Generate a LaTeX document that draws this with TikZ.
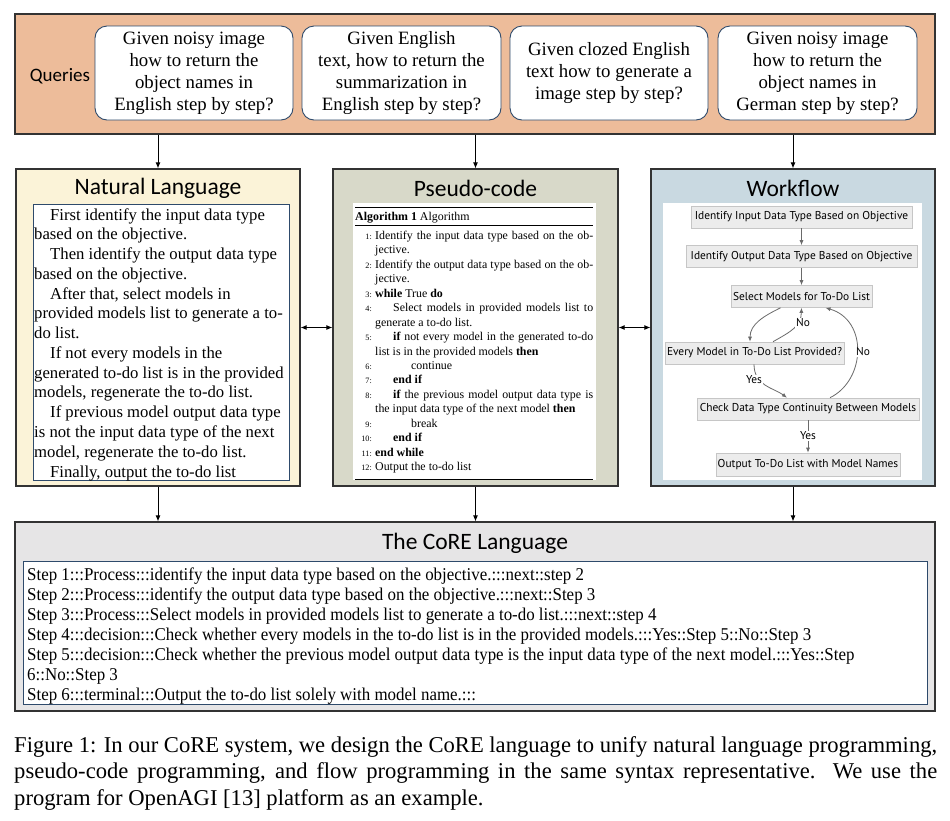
\documentclass[tikz,border=0pt]{standalone}
\usepackage{fontspec}
\setmainfont{Liberation Serif}
\newfontfamily\titlefont{Carlito}
\newfontfamily\wffont{PT Sans}
\newfontfamily\corefont[FakeStretch=0.94]{Liberation Serif}
\usetikzlibrary{arrows.meta,fit}
\definecolor{peach}{HTML}{EDBC9A}
\definecolor{nlfill}{HTML}{FBF3D8}
\definecolor{pcfill}{HTML}{D8D9C9}
\definecolor{wffill}{HTML}{C9D9E1}
\definecolor{corefill}{HTML}{E6E5E6}
\definecolor{navy}{HTML}{2E4A6B}
\definecolor{wfnode}{HTML}{ECECEC}
\definecolor{wfborder}{HTML}{C6C6C6}
\definecolor{wfarrow}{HTML}{6A6A6A}
\definecolor{framec}{HTML}{333333}
\tikzset{
  panel/.style={draw=framec, line width=1.2pt, inner sep=0pt},
  innerbox/.style={fill=white, inner sep=0pt},
  qbox/.style={draw=navy, line width=0.9pt, fill=white, rounded corners=12pt, inner sep=0pt},
  qtext/.style={align=center, font=\fontsize{18.8}{22}\selectfont, inner sep=0pt},
  ptitle/.style={font=\titlefont\fontsize{23.5}{25}\selectfont, inner sep=0pt},
  arr/.style={line width=0.9pt, -{Latex[length=6pt,width=5pt]}},
  darr/.style={line width=0.9pt, {Latex[length=6pt,width=5pt]}-{Latex[length=6pt,width=5pt]}},
  nltext/.style={anchor=base west, inner sep=0pt, font=\fontsize{16.7}{19}\selectfont},
  pctext/.style={anchor=base west, inner sep=0pt, font=\fontsize{11.9}{13}\selectfont},
  pcnum/.style={anchor=base east, inner sep=0pt, font=\fontsize{8.2}{9}\selectfont},
  wfbox/.style={draw=wfborder, fill=wfnode, line width=0.6pt, inner sep=0pt, font=\wffont\fontsize{11.4}{13}\selectfont},
  wfarr/.style={draw=wfarrow, line width=0.8pt, -{Latex[length=5pt,width=4pt]}},
  wflabel/.style={fill=white, inner sep=1pt, font=\wffont\fontsize{11.4}{13}\selectfont},
  coretext/.style={anchor=base west, inner sep=0pt, font=\corefont\fontsize{18}{20}\selectfont},
  captext/.style={anchor=base west, inner sep=0pt, font=\fontsize{22.6}{26}\selectfont},
}
\begin{document}
\begin{tikzpicture}[x=1pt,y=-1pt]
\useasboundingbox[fill=white] (0,0) rectangle (950,820);

% ---------- Queries ----------
\node[panel, fill=peach, fit={(15,14) (935,134)}] (queries) {};
\node[font=\titlefont\fontsize{19}{21}\selectfont, inner sep=0pt] (qlabel) at (60,76) {Queries};
\node[qbox, fit={(95,26) (293,120)}] (q1) {};
\node[qtext] (q1t) at (q1.center) {Given noisy image\\how to return the\\object names in\\English step by step?};
\node[qbox, fit={(302,26) (501,120)}] (q2) {};
\node[qtext] (q2t) at (q2.center) {Given English\\text, how to return the\\summarization in\\English step by step?};
\node[qbox, fit={(510,26) (708,120)}] (q3) {};
\node[qtext] (q3t) at (q3.center) {Given clozed English\\text how to generate a\\image step by step?};
\node[qbox, fit={(718,26) (917,120)}] (q4) {};
\node[qtext] (q4t) at (q4.center) {Given noisy image\\how to return the\\object names in\\German step by step?};

% ---------- Panels ----------
\node[panel, fill=nlfill, fit={(16,169) (300,486)}] (nl) {};
\node[panel, fill=pcfill, fit={(333,169) (618,486)}] (pc) {};
\node[panel, fill=wffill, fit={(651,169) (935,486)}] (wf) {};
\node[ptitle] (nltitle) at (158,188) {Natural Language};
\node[ptitle] (pctitle) at (475.5,188) {Pseudo-code};
\node[ptitle] (wftitle) at (793,188) {Workflow};

\draw[arr] (queries.south -| nl.north) -- (nl.north);
\draw[arr] (queries.south -| pc.north) -- (pc.north);
\draw[arr] (queries.south -| wf.north) -- (wf.north);
\draw[darr] (nl.east) -- (pc.west);
\draw[darr] (pc.east) -- (wf.west);

% ---------- Natural language ----------
\node[innerbox, draw=navy, line width=0.9pt, fit={(33,204) (289,480)}] (nlin) {};
\foreach \txt/\xx [count=\i] in {
  {First identify the input data type}/50,
  {based on the objective.}/34,
  {Then identify the output data type}/50,
  {based on the objective.}/34,
  {After that, select models in}/50,
  {provided models list to generate a to-}/34,
  {do list.}/34,
  {If not every models in the}/50,
  {generated to-do list is in the provided}/34,
  {models, regenerate the to-do list.}/34,
  {If previous model output data type}/50,
  {is not the input data type of the next}/34,
  {model, regenerate the to-do list.}/34,
  {Finally, output the to-do list}/50}
  \node[nltext] (nl\i) at (\xx, 220+19.77*\i-19.77) {\txt};

% ---------- Pseudo-code ----------
\node[innerbox, fit={(353,203) (596,480)}] (pcin) {};
\draw[line width=0.7pt] (355,207) coordinate (r1a) -- (593,207) coordinate (r1b);
\node[pctext] (alg) at (355,220) {\textbf{Algorithm 1} Algorithm};
\draw[line width=0.5pt] (355,225) coordinate (r2a) -- (593,225) coordinate (r2b);
\draw[line width=0.5pt] (355,479) coordinate (r3a) -- (593,479) coordinate (r3b);
\foreach \num/\xx/\txt [count=\i] in {
  1:/375/{\makebox[218pt][s]{Identify the input data type based on the ob-}},
  /375/{jective.},
  2:/375/{\makebox[218pt][s]{Identify the output data type based on the ob-}},
  /375/{jective.},
  3:/375/{\textbf{while} True \textbf{do}},
  4:/393/{\makebox[200pt][s]{Select models in provided models list to}},
  /375/{generate a to-do list.},
  5:/393/{\makebox[200pt][s]{\textbf{if} not every model in the generated to-do}},
  /375/{list is in the provided models \textbf{then}},
  6:/411/{continue},
  7:/393/{\textbf{end if}},
  8:/393/{\makebox[200pt][s]{\textbf{if} the previous model output data type is}},
  /375/{the input data type of the next model \textbf{then}},
  9:/411/{break},
  10:/393/{\textbf{end if}},
  11:/375/{\textbf{end while}},
  12:/375/{Output the to-do list}}
{
  \node[pctext] (pl\i) at (\xx, 239.5+14.44*\i-14.44) {\txt};
  \node[pcnum] (pn\i) at (372, 239.5+14.44*\i-14.44) {\num};
}

% ---------- Workflow ----------
\node[innerbox, fit={(663,203) (922,480)}] (wfin) {};
\node[wfbox, minimum width=221pt, minimum height=22pt] (w1) at (801.5,217) {Identify Input Data Type Based on Objective};
\node[wfbox, minimum width=231pt, minimum height=22pt] (w2) at (801.5,256.5) {Identify Output Data Type Based on Objective};
\node[wfbox, minimum width=141pt, minimum height=22pt] (w3) at (801.5,296.5) {Select Models for To-Do List};
\node[wfbox, minimum width=179pt, minimum height=22pt] (w4) at (754.5,353) {Every Model in To-Do List Provided?};
\node[wfbox, minimum width=222pt, minimum height=22pt] (w5) at (808,409) {Check Data Type Continuity Between Models};
\node[wfbox, minimum width=184pt, minimum height=23pt] (w6) at (808,464.5) {Output To-Do List with Model Names};
\draw[wfarr] (w1) -- (w2);
\draw[wfarr] (w2) -- (w3);
\draw[wfarr] ([xshift=-21pt]w3.south) .. controls (764,316) and (750,324) .. ([xshift=-4.5pt]w4.north);
\draw[wfarr] ([xshift=18.5pt]w4.north) .. controls (792,331) and (801,326) .. (w3.south);
\node[wflabel] (lno1) at (803,323) {No};
\draw[wfarr] ([xshift=-0.5pt]w4.south) .. controls (754,386) and (774,388) .. ([xshift=-21pt]w5.north);
\node[wflabel] (lyes1) at (754,380) {Yes};
\draw[wfarr] ([xshift=22pt]w5.north) .. controls (866,380) and (868,320) .. ([xshift=24pt]w3.south);
\node[wflabel] (lno2) at (863,352) {No};
\draw[wfarr] (w5) -- (w6);
\node[wflabel] (lyes2) at (808,436) {Yes};

% ---------- CoRE ----------
\node[panel, fill=corefill, fit={(15,522) (935,711)}] (core) {};
\node[ptitle] (coretitle) at (475,543) {The CoRE Language};
\draw[arr] (nl.south) -- (nl.south |- core.north);
\draw[arr] (pc.south) -- (pc.south |- core.north);
\draw[arr] (wf.south) -- (wf.south |- core.north);
\node[innerbox, draw=navy, line width=0.9pt, fit={(23,561) (927,704)}] (corein) {};
\foreach \txt [count=\i] in {
  {Step 1:::Process:::identify the input data type based on the objective.:::next::step 2},
  {Step 2:::Process:::identify the output data type based on the objective.:::next::Step 3},
  {Step 3:::Process:::Select models in provided models list to generate a to-do list.:::next::step 4},
  {Step 4:::decision:::Check whether every models in the to-do list is in the provided models.:::Yes::Step 5::No::Step 3},
  {Step 5:::decision:::Check whether the previous model output data type is the input data type of the next model.:::Yes::Step},
  {6::No::Step 3},
  {Step 6:::terminal:::Output the to-do list solely with model name.:::}}
  \node[coretext] (cl\i) at (27, 580+20*\i-20) {\txt};

% ---------- Caption ----------
\node[captext] (cap1) at (14,752) {\makebox[923pt][s]{Figure 1: In our CoRE system, we design the CoRE language to unify natural language programming,}};
\node[captext] (cap2) at (14,778.5) {\makebox[923pt][s]{pseudo-code programming, and flow programming in the same syntax representative.\ \ We use the}};
\node[captext] (cap3) at (14,805) {program for OpenAGI [13] platform as an example.};
\end{tikzpicture}
\end{document}
